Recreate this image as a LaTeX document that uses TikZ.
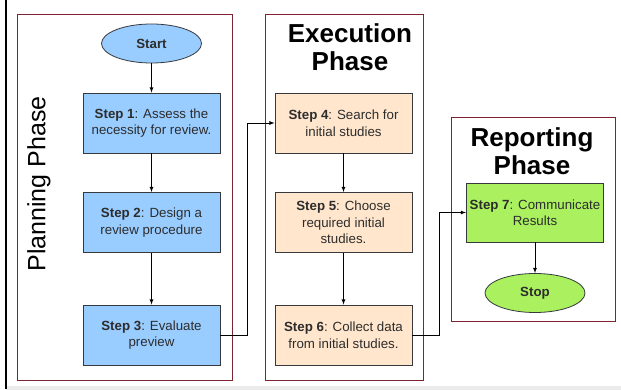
\documentclass[tikz,border=0pt]{standalone}
\usepackage{fontspec}
\setmainfont{Liberation Sans}
\usetikzlibrary{shapes.geometric}
\definecolor{planblue}{RGB}{153,204,255}
\definecolor{execorange}{RGB}{255,230,204}
\definecolor{reportgreen}{RGB}{170,240,95}
\definecolor{boxline}{RGB}{54,57,61}
\definecolor{boxtext}{RGB}{45,45,45}
\definecolor{framered}{RGB}{125,35,50}

\begin{document}
\begin{tikzpicture}[x=1pt, y=-1pt, >=latex, line width=0.8pt,
  block/.style={draw=boxline, minimum width=137pt, minimum height=60pt, align=center, text=boxtext, font=\fontsize{13.3}{16.5}\selectfont},
  term/.style={ellipse, draw=boxline, minimum width=100pt, minimum height=39pt, text=boxtext, font=\fontsize{13.3}{16}\selectfont\bfseries},
  phase/.style={draw=framered},
  title/.style={align=center, font=\fontsize{26}{28}\selectfont\bfseries},]
        \useasboundingbox (0,0) rectangle (621,390);
        \fill[white] (0,0) rectangle (621,390);
        \fill[black!8] (6,386) rectangle (621,390);
        \draw[line width=1.3pt] (6,0) -- (6,389);
        \draw[phase] (17,14) rectangle (232,380);
        \draw[phase] (265,14) rectangle (423,380);
        \draw[phase] (451,117) rectangle (615,321);
        \node[rotate=90, font=\fontsize{25}{28}\selectfont] (plantitle) at (39,184) {Planning Phase};
        \node[title] (exectitle) at (350,47) {Execution\\Phase};
        \node[title] (reporttitle) at (532,151) {Reporting\\Phase};
        \node[term, fill=planblue] (start) at (151.5,43.5) {Start};
        \node[block, fill=planblue, below of=start, node distance=79.5pt] (step1) {\textbf{Step 1}: Assess the\\necessity for review.};
        \node[block, fill=planblue, below of=step1, node distance=99.5pt] (step2) {\textbf{Step 2}: Design a\\review procedure};
        \node[block, fill=planblue, below of=step2, node distance=112.5pt] (step3) {\textbf{Step 3}: Evaluate\\preview};
        \node[block, fill=execorange, right of=step1, node distance=192pt] (step4) {\textbf{Step 4}: Search for\\initial studies};
        \node[block, fill=execorange, below of=step4, node distance=99.5pt] (step5) {\textbf{Step 5}: Choose\\required initial\\studies.};
        \node[block, fill=execorange, below of=step5, node distance=112.5pt] (step6) {\textbf{Step 6}: Collect data\\from initial studies.};
        \node[block, fill=reportgreen, minimum height=59pt] (step7) at (535,212.5) {\textbf{Step 7}: Communicate\\Results};
        \node[term, fill=reportgreen, below of=step7, node distance=80.5pt] (stop) {Stop};
        \draw[->] (start) -- (step1);
        \draw[->] (step1) -- (step2);
        \draw[->] (step2) -- (step3);
        \draw[->] (step3.east) -- ++(27,0) |- (step4.west);
        \draw[->] (step4) -- (step5);
        \draw[->] (step5) -- (step6);
        \draw[->] (step6.east) -- ++(27,0) |- (step7.west);
        \draw[->] (step7) -- (stop);
      \end{tikzpicture}
\end{document}
